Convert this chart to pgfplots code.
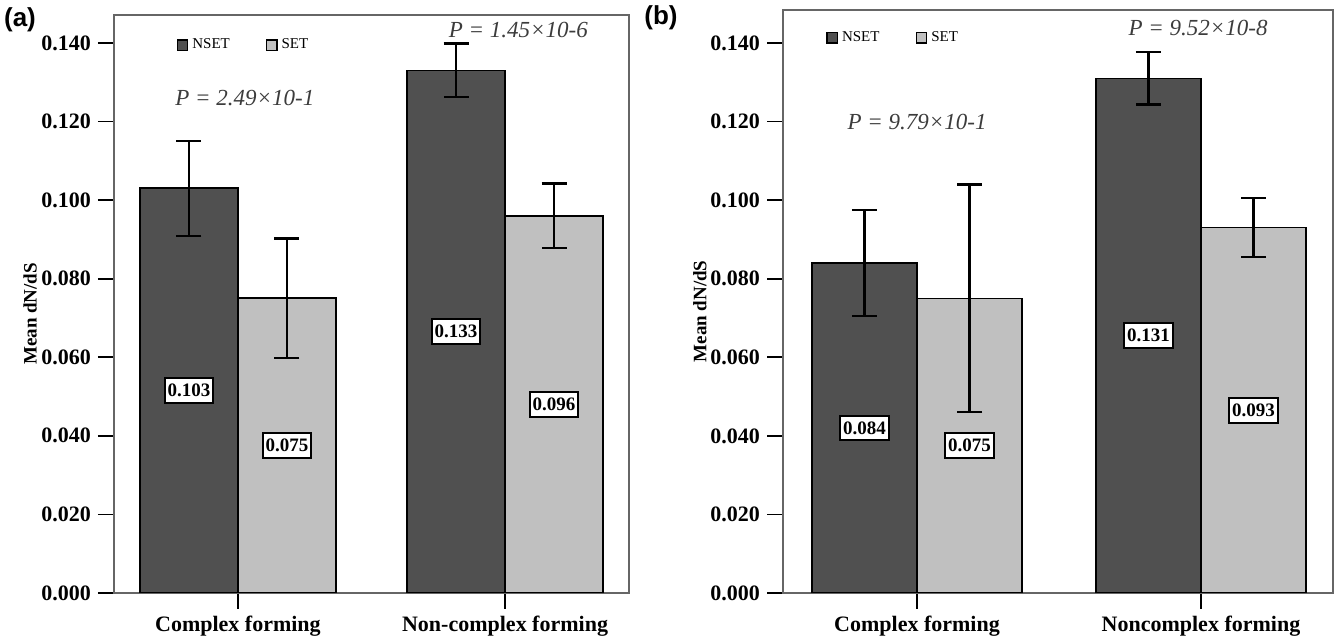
\documentclass[border=0pt]{standalone}
\usepackage{pgfplots}
\pgfplotsset{compat=1.18}
\usepackage{fontspec}
\setmainfont{Liberation Serif}
\newfontfamily\arialfont{Liberation Sans}
\definecolor{nsetgray}{RGB}{80,80,80}
\definecolor{setgray}{RGB}{192,192,192}
\definecolor{pgray}{RGB}{60,60,60}

\pgfplotsset{
  dnds/.style={
    scale only axis,
    ybar,
    ymin=0,
    axis line style={black!60, line width=0.7pt},
    tick align=outside,
    xtick pos=left, ytick pos=left,
    major tick length=8pt,
    tick style={black, line width=0.9pt},
    xtick={0,1},
    ytick={0,0.02,0.04,0.06,0.08,0.1,0.12,0.14},
    scaled y ticks=false,
    /pgf/number format/assume math mode=true,
    yticklabel style={/pgf/number format/fixed, /pgf/number format/fixed zerofill, /pgf/number format/precision=3},
    tick label style={font=\bfseries\fontsize{11}{13}\selectfont},
    ylabel={Mean dN/dS},
    ylabel style={font=\bfseries\fontsize{9.5}{11}\selectfont, anchor=center},
    point meta=y,
    nodes near coords={\pgfmathprintnumber[fixed,fixed zerofill,precision=3]{\pgfplotspointmeta}},
    visualization depends on={rawy \as \rawy},
    nodes near coords style={font=\bfseries\fontsize{9.5}{11}\selectfont, text=black, fill=white,
      draw=black, line width=1pt, inner xsep=1.5pt, inner ysep=3pt, anchor=center,
      shift={(axis direction cs:0,-\rawy/2)}},
    legend image code/.code={\draw[#1, draw=black, line width=0.7pt] (0pt,-2.6pt) rectangle (5.2pt,2.6pt);},
    legend style={draw=none, fill=none, font=\fontsize{7.5}{8}\selectfont, legend columns=2,
      anchor=west, /tikz/every even column/.append style={column sep=16pt}},
    legend cell align=left,
  },
  nsetbar/.style={fill=nsetgray, draw=black, line width=0.8pt},
  setbar/.style={fill=setgray, draw=black, line width=0.8pt},
  errs/.style={error bars/.cd, y dir=both, y explicit,
    error bar style={black, line width=1.2pt},
    error mark options={black, line width=1.2pt, mark size=6.25pt, rotate=90}},
}

\begin{document}
\begin{tikzpicture}
\useasboundingbox (0,0) rectangle (667.5pt,320.5pt);

% panel (a)
\begin{axis}[dnds,
  at={(57pt,24pt)}, anchor=south west,
  width=257.5pt, height=289pt,
  xmin=-0.464, xmax=1.464, ymax=0.1471,
  bar width=0.367,
  xticklabels={Complex forming, Non-complex forming},
  ylabel style={at={(axis description cs:-0.163,0.483)}},
  legend style={at={(axis description cs:0.109,0.948)}},
]
\addplot[nsetbar, bar shift=-0.1835, errs] coordinates {
  (0,0.103) +- (0,0.0121)
  (1,0.133) +- (0,0.0068)
};
\addlegendentry{NSET}
\addplot[setbar, bar shift=0.1835, errs] coordinates {
  (0,0.075) +- (0,0.0152)
  (1,0.096) +- (0,0.0082)
};
\addlegendentry{SET}
\node[font=\itshape\fontsize{11.5}{13}\selectfont, text=pgray] at (axis cs:0.026,0.126) {P = 2.49×10-1};
\node[font=\itshape\fontsize{11.5}{13}\selectfont, text=pgray] at (axis cs:1.05,0.1433) {P = 1.45×10-6};
\end{axis}

% panel (b)
\begin{axis}[dnds,
  at={(391.5pt,24pt)}, anchor=south west,
  width=275pt, height=291.5pt,
  xmin=-0.472, xmax=1.465, ymax=0.1484,
  bar width=0.37,
  xticklabels={Complex forming, Noncomplex forming},
  ylabel style={at={(axis description cs:-0.151,0.483)}},
  legend style={at={(axis description cs:0.067,0.952)}},
]
\addplot[nsetbar, bar shift=-0.185, errs] coordinates {
  (0,0.084) +- (0,0.0135)
  (1,0.131) +- (0,0.0067)
};
\addlegendentry{NSET}
\addplot[setbar, bar shift=0.185, errs] coordinates {
  (0,0.075) +- (0,0.029)
  (1,0.093) +- (0,0.0075)
};
\addlegendentry{SET}
\node[font=\itshape\fontsize{11.5}{13}\selectfont, text=pgray] at (axis cs:0,0.1199) {P = 9.79×10-1};
\node[font=\itshape\fontsize{11.5}{13}\selectfont, text=pgray] at (axis cs:0.99,0.1438) {P = 9.52×10-8};
\end{axis}

\node[font=\arialfont\bfseries\fontsize{13}{15}\selectfont] at (10pt,310.5pt) {(a)};
\node[font=\arialfont\bfseries\fontsize{13}{15}\selectfont] at (330.5pt,311.5pt) {(b)};
\end{tikzpicture}
\end{document}
